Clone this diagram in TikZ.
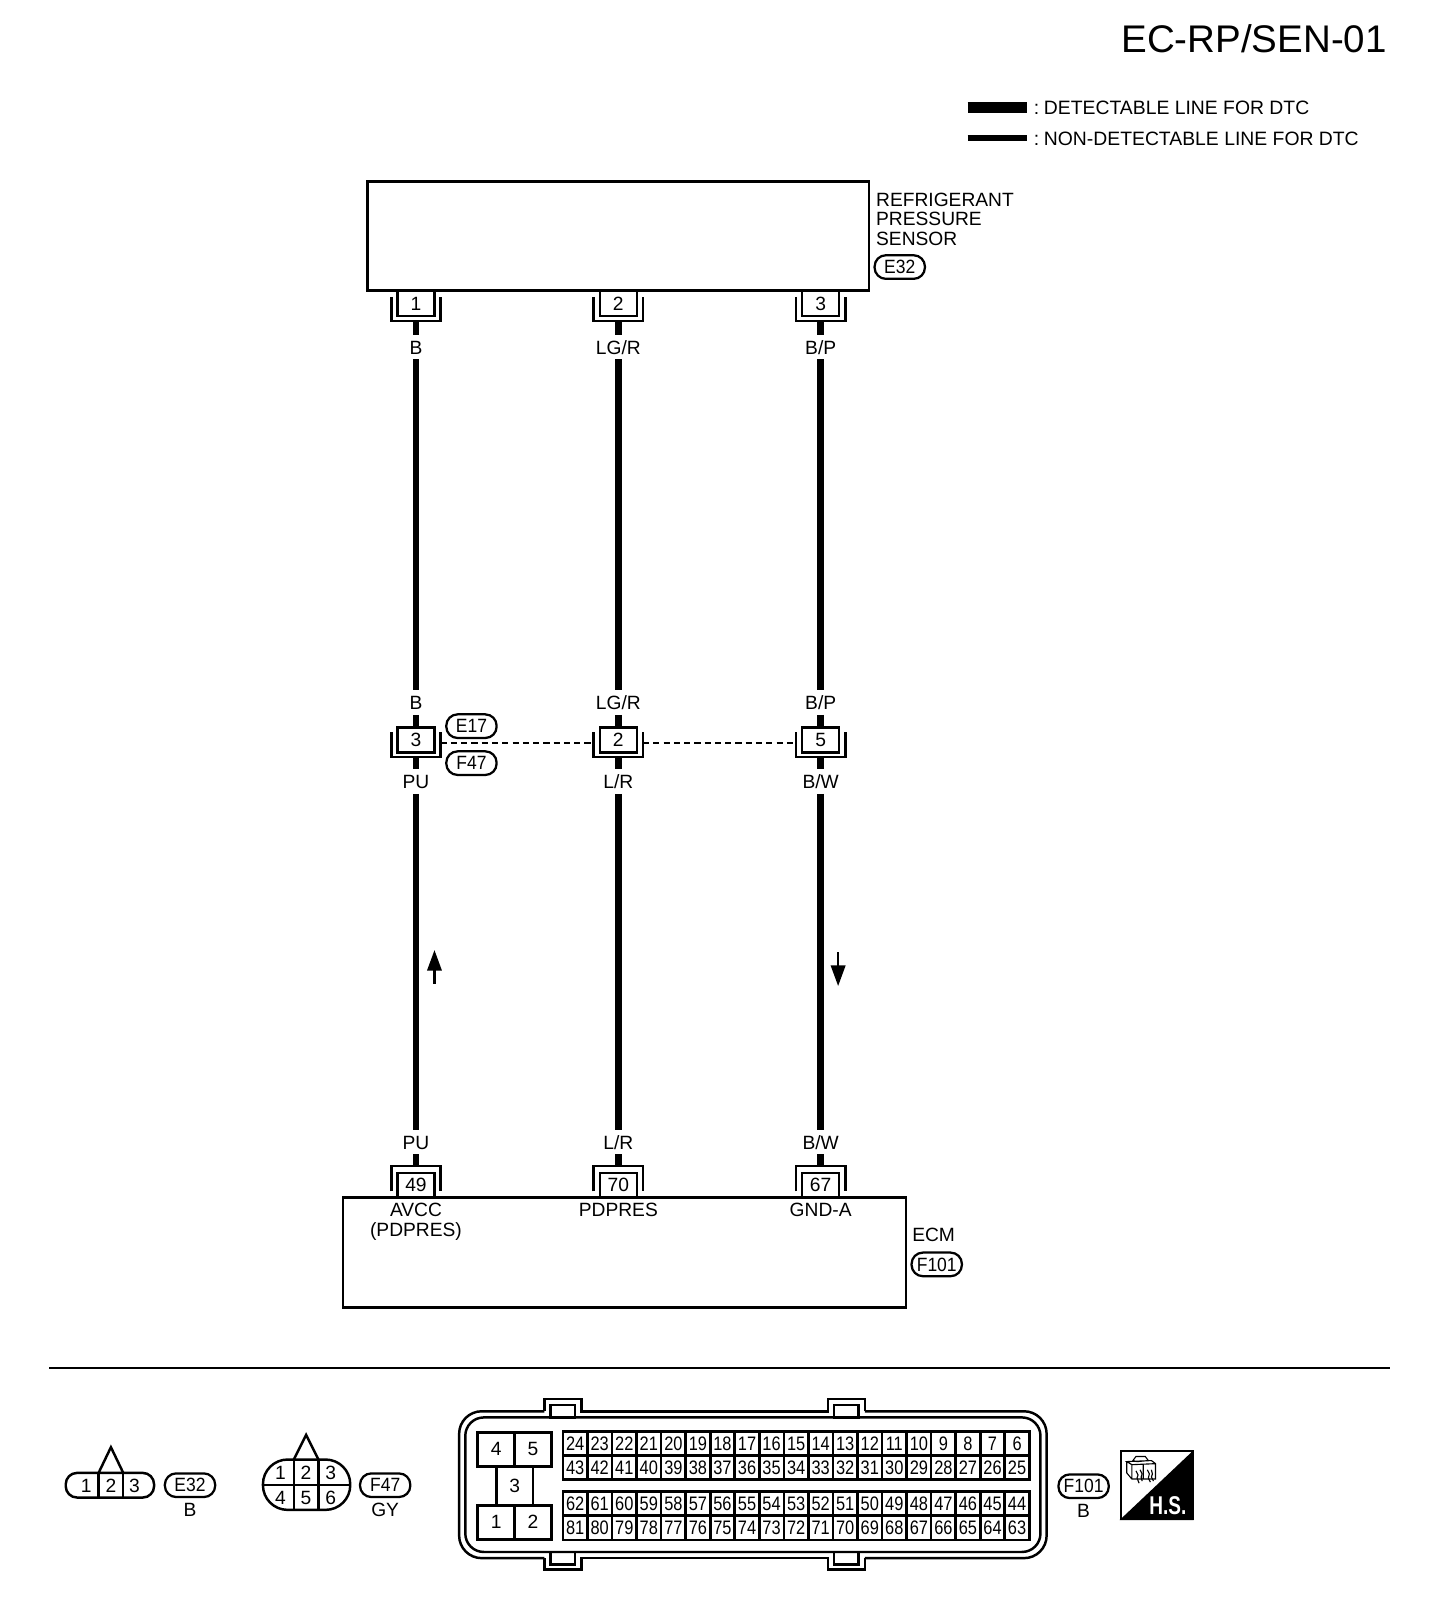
\documentclass[tikz,border=0pt]{standalone}
\usepackage{fontspec}
\setmainfont{Liberation Sans}
\newfontfamily\narrowfont[FakeStretch=0.84]{Liberation Sans}
\newfontfamily\tagfamily[FakeStretch=0.91]{Liberation Sans}
\newfontfamily\hsfont[FakeStretch=0.74]{Liberation Sans}
\usetikzlibrary{arrows.meta,calc}
\newcommand{\lblfont}{\fontsize{18.7}{20}\selectfont}
\newcommand{\pinfont}{\narrowfont\fontsize{19}{20}\selectfont}
\tikzset{
  every node/.style={inner sep=0pt,outer sep=0pt},
  lbl/.style={font=\lblfont,text height=13.4pt,text depth=0pt,minimum height=24pt},
  plain/.style={font=\lblfont,text height=13.4pt,text depth=0pt},
  title/.style={font=\fontsize{37.5}{40}\selectfont},
  box/.style={draw,line width=2.6pt},
  termbox/.style={draw,line width=2.4pt,minimum width=36pt,minimum height=24pt,font=\lblfont},
  shell/.style={line width=2.4pt},
  wire/.style={line width=6.2pt},
  link/.style={line width=2pt,dash pattern=on 6pt off 4pt},
  tag/.style={draw,line width=2.2pt,rounded corners=11pt,minimum width=49pt,minimum height=23pt,font=\tagfamily\lblfont},
  flow/.style={line width=2.2pt,-{Triangle[length=20pt,width=14pt]}},
  pin/.style={draw,line width=2.6pt,minimum width=23.9pt,minimum height=23.5pt,font=\pinfont},
  big/.style={draw,line width=3pt,minimum width=36pt,minimum height=33pt,font=\lblfont},
  plug/.style={line width=2.4pt},
}
% top terminal: name, x, number
\newcommand{\topterm}[3]{%
  \node[termbox] (#1) at (#2,295.5) {#3};
  \coordinate (#1b) at (#2,312.5);
  \draw[shell] (#2-24,289) -- (#2-24,312.5) -- (#2+24,312.5) -- (#2+24,289);}
% middle terminal
\newcommand{\midterm}[3]{%
  \node[termbox] (#1) at (#2,720.5) {#3};
  \coordinate (#1t) at (#2,708);
  \coordinate (#1b) at (#2,737);
  \coordinate (#1l) at (#2-24,723);
  \coordinate (#1r) at (#2+24,723);
  \draw[shell] (#2-24,713) -- (#2-24,737) -- (#2+24,737) -- (#2+24,713);}
% bottom terminal
\newcommand{\botterm}[3]{%
  \node[termbox] (#1) at (#2,1154) {#3};
  \coordinate (#1t) at (#2,1135);
  \draw[shell] (#2-24,1160) -- (#2-24,1135) -- (#2+24,1135) -- (#2+24,1160);}
\begin{document}
\begin{tikzpicture}[x=1pt,y=-1pt]
\useasboundingbox (0,0) rectangle (1417.5,1567.5);

% header and legend
\node[title] (ttl) at (1221,38) {EC-RP/SEN-01};
\coordinate (la) at (942,104.5); \coordinate (lb) at (1000,104.5);
\coordinate (lc) at (942,134.5); \coordinate (ld) at (1000,134.5);
\draw[line width=11pt] (la) -- (lb);
\draw[line width=6.2pt] (lc) -- (ld);
\node[plain,anchor=west] (ltxa) at (1006.5,105) {\fontsize{18.85}{20}\selectfont:\hspace{4.6pt}DETECTABLE LINE FOR DTC};
\node[plain,anchor=west] (ltxb) at (1006.5,135) {\fontsize{18.85}{20}\selectfont:\hspace{4.6pt}NON-DETECTABLE LINE FOR DTC};

% sensor
\node[box,minimum width=488pt,minimum height=106pt] (sensor) at (602,230) {};
\node[plain,anchor=west] (st1) at (853,194) {REFRIGERANT};
\node[plain,anchor=west] (st2) at (853,213) {PRESSURE};
\node[plain,anchor=west] (st3) at (853,232) {SENSOR};
\node[tag] (te32) at (876,260) {E32};

% ECM
\node[box,minimum width=548pt,minimum height=107pt] (ecm) at (608,1219.5) {};
\node[plain] (et1) at (909,1202) {ECM};
\node[tag] (tf101) at (912,1231) {F101};

% terminals
\topterm{sa}{405}{1}
\topterm{sb}{602}{2}
\topterm{sc}{799}{3}
\midterm{ma}{405}{3}
\midterm{mb}{602}{2}
\midterm{mc}{799}{5}
\botterm{ea}{405}{49}
\botterm{eb}{602}{70}
\botterm{ec}{799}{67}

\node[tag] (te17) at (459,707) {E17};
\node[tag] (tf47) at (459,743) {F47};

% colour labels
\foreach \n/\x/\ta/\tb in {a/405/B/PU,b/602/LG\slash R/L\slash R,c/799/B\slash P/B\slash W}{
  \node[lbl] (u\n) at (\x,338) {\ta};
  \node[lbl] (v\n) at (\x,684) {\ta};
  \node[lbl] (w\n) at (\x,761) {\tb};
  \node[lbl] (z\n) at (\x,1112) {\tb};
  \draw[wire] (s\n b) -- (u\n.north);
  \draw[wire] (u\n.south) -- (v\n.north);
  \draw[wire] (v\n.south) -- (m\n t);
  \draw[wire] (m\n b) -- (w\n.north);
  \draw[wire] (w\n.south) -- (z\n.north);
  \draw[wire] (z\n.south) -- (e\n t);
}

\draw[link] (mar) -- (mbl);
\draw[link] (mbr) -- (mcl);

% pin names
\node[plain] (pa) at (405,1178) {AVCC};
\node[plain] (pa2) at (405,1197) {(PDPRES)};
\node[plain] (pb) at (602,1178) {PDPRES};
\node[plain] (pc) at (799,1178) {GND-A};

% arrows
\coordinate (ar1) at (423,958); \coordinate (ar2) at (423,925);
\coordinate (ar3) at (816,927); \coordinate (ar4) at (816,960);
\draw[flow] (ar1) -- (ar2);
\draw[flow] (ar3) -- (ar4);

% separator
\coordinate (ra) at (48,1332); \coordinate (rb) at (1353,1332);
\draw[line width=2.2pt] (ra) -- (rb);

% E32 plug
\draw[plug,rounded corners=11pt] (64,1434) rectangle (150,1458);
\draw[plug] (96,1434) -- (96,1458) (120,1434) -- (120,1458);
\draw[plug] (96,1434) -- (108,1409) -- (120,1434);
\foreach \n/\x in {1/84,2/108,3/131}{\node[plain] (ep\n) at (\x,1446) {\n};}
\node[tag] (ce32) at (185,1446) {E32};
\node[plain] (cb1) at (185,1470) {B};

% F47 plug
\draw[plug,rounded corners=24pt] (256,1421) rectangle (341,1470);
\draw[plug] (256,1446) -- (341,1446) (286,1421) -- (286,1470) (310,1421) -- (310,1470);
\draw[plug] (286,1421) -- (298,1397) -- (310,1421);
\foreach \n/\x/\y in {1/273/1434,2/298/1434,3/322/1434,4/273/1458,5/298/1458,6/322/1458}{\node[plain] (fp\n) at (\x,\y) {\n};}
\node[tag] (cf47) at (375,1446) {F47};
\node[plain] (cb2) at (375,1470) {GY};

% ECM plug shell: outer contour with tabs
\draw[plug,rounded corners=22pt]
  (530,1374) -- (447,1374) -- (447,1517) -- (530,1517);
\draw[plug,rounded corners=22pt]
  (842,1374) -- (1019,1374) -- (1019,1517) -- (842,1517);
\draw[plug] (530,1374) -- (530,1362) -- (566,1362) -- (566,1374) -- (806,1374) -- (806,1362) -- (842,1362) -- (842,1374);
\draw[plug] (530,1517) -- (530,1528) -- (566,1528) -- (566,1517) -- (806,1517) -- (806,1528) -- (842,1528) -- (842,1517);
% inner contour and latch windows
\draw[plug,rounded corners=18pt] (453,1380) rectangle (1013,1511);
\draw[plug] (536,1380) rectangle (560,1368) (812,1380) rectangle (836,1368);
\draw[plug] (536,1511) rectangle (560,1523) (812,1511) rectangle (836,1523);

% power pins
\node[big] (b4) at (483,1411) {4};
\node[big] (b5) at (519,1411) {5};
\node[big] (b1) at (483,1482) {1};
\node[big] (b2) at (519,1482) {2};
\node[plain] (b3) at (501,1446) {3};
\draw[line width=3pt] (b4.south) -- (b1.north);
\draw[line width=2.4pt] (b5.south) -- (b2.north);

% signal pins
\foreach \i in {0,...,18}{
  \pgfmathsetmacro{\px}{560+23.9*\i}
  \pgfmathtruncatemacro{\na}{24-\i}
  \pgfmathtruncatemacro{\nb}{43-\i}
  \pgfmathtruncatemacro{\nc}{62-\i}
  \pgfmathtruncatemacro{\nd}{81-\i}
  \node[pin] (p\na) at (\px,1405.5) {\na};
  \node[pin] (p\nb) at (\px,1429) {\nb};
  \node[pin] (p\nc) at (\px,1464) {\nc};
  \node[pin] (p\nd) at (\px,1487.5) {\nd};
}

\node[tag] (cf101) at (1055,1447) {F101};
\node[plain] (cb3) at (1055,1471) {B};

% harness symbol
\fill (1162,1412) -- (1162,1480) -- (1090,1480) -- cycle;
\draw[line width=2pt] (1091,1413) rectangle (1161,1479);
\node[font=\hsfont\bfseries\fontsize{25}{27}\selectfont,text=white] (hs) at (1137,1466) {H.S.};
\draw[line width=1.1pt] (1097,1423) -- (1097,1434) -- (1102,1440) -- (1125,1440) -- (1125,1425) -- (1121,1422) -- (1097,1423) -- (1102,1426) -- (1125,1425)
  (1102,1426) -- (1102,1440) (1113,1426) -- (1113,1440)
  (1103,1422) -- (1106,1418) -- (1115,1418) -- (1118,1422) -- (1107,1423) -- cycle;
\draw[line width=1.1pt] (1106,1432) -- (1108,1436) -- (1107,1439) -- (1109,1444)
  (1110,1431) -- (1112,1435) -- (1111,1438) -- (1112,1442)
  (1117,1431) -- (1119,1435) -- (1118,1439) -- (1120,1443)
  (1121,1431) -- (1122,1435) -- (1121,1438) -- (1123,1442);
\end{tikzpicture}
\end{document}
